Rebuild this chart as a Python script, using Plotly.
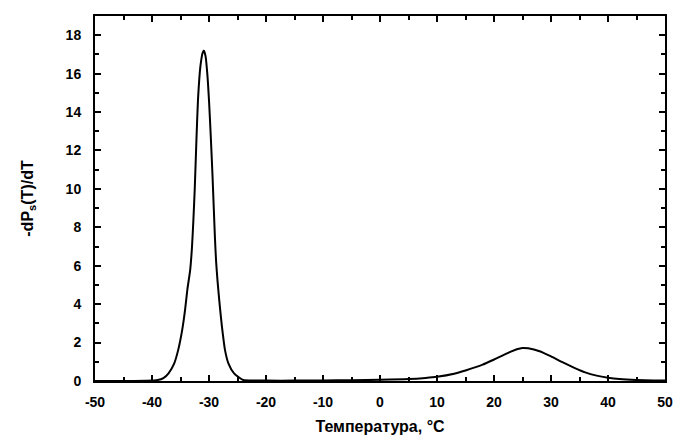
import plotly.graph_objects as go

temperature = [-50, -45, -41, -39.0, -38.0, -37.1, -36.1, -35.4, -34.7, -34.2, -33.8, -33.3, -33.0, -32.75,
               -32.5, -32.2, -31.9, -31.5, -31.1, -30.9, -30.6, -30.3, -30.0, -29.7, -29.4, -29.15, -28.95,
               -28.75, -28.5, -28.2, -27.9, -27.6, -27.2, -26.6, -25.6, -24.0, -22, -20, -15, -10, -5, 0,
               5, 8, 10, 13, 15, 18, 20, 22, 24, 25, 26, 28, 30, 32, 34, 36, 38, 40, 42, 45, 48, 50]
dps_dt = [0.0, 0.0, 0.01, 0.05, 0.15, 0.4, 0.92, 1.62, 2.66, 3.70, 4.75, 5.79, 6.9, 8.3,
          10.0, 12.6, 14.8, 16.4, 17.1, 17.2, 16.9, 16.0, 14.6, 12.8, 10.8, 8.9, 7.4,
          6.2, 5.2, 4.2, 3.3, 2.5, 1.62, 0.92, 0.4, 0.05, 0.03, 0.02, 0.02, 0.03, 0.04, 0.06,
          0.1, 0.16, 0.22, 0.38, 0.55, 0.85, 1.12, 1.4, 1.65, 1.72, 1.7, 1.55, 1.28, 0.98, 0.7, 0.45,
          0.28, 0.17, 0.1, 0.05, 0.03, 0.02]

x_ticks = [-50, -40, -30, -20, -10, 0, 10, 20, 30, 40, 50]
y_ticks = [0, 2, 4, 6, 8, 10, 12, 14, 16, 18]

FONT = "Liberation Sans, Arial, sans-serif"

fig = go.Figure()
fig.add_trace(go.Scatter(x=temperature, y=dps_dt, mode="lines",
                         line=dict(color="black", width=2, shape="spline", smoothing=0.6),
                         showlegend=False, hoverinfo="skip"))

axis_common = dict(showline=True, linecolor="black", linewidth=2, mirror="ticks",
                   ticks="inside", ticklen=6, tickwidth=2, tickcolor="black",
                   showgrid=False, zeroline=False, automargin=False,
                   tickfont=dict(family=FONT, size=14, color="black", weight="bold"))

fig.update_xaxes(range=[-50, 50], tickvals=x_ticks, ticktext=[str(v) for v in x_ticks],
                 ticklabelstandoff=7,
                 minor=dict(ticks="inside", ticklen=4, tickwidth=1.5, tickcolor="black", dtick=5, tick0=-50),
                 title=dict(text="Температура, °C", standoff=12,
                            font=dict(family=FONT, size=16, color="black", weight="bold")),
                 **axis_common)
fig.update_yaxes(range=[0, 19], tickvals=y_ticks, ticktext=[str(v) for v in y_ticks],
                 ticklabelstandoff=9,
                 minor=dict(ticks="inside", ticklen=4, tickwidth=1.5, tickcolor="black", dtick=1, tick0=0),
                 title=dict(text="-dP<sub>s</sub>(T)/dT", standoff=28,
                            font=dict(family=FONT, size=16, color="black", weight="bold")),
                 **axis_common)

fig.update_layout(width=675, height=441, margin=dict(l=95, r=10, t=16, b=60),
                  paper_bgcolor="white", plot_bgcolor="white")

fig.write_html("out.html")
